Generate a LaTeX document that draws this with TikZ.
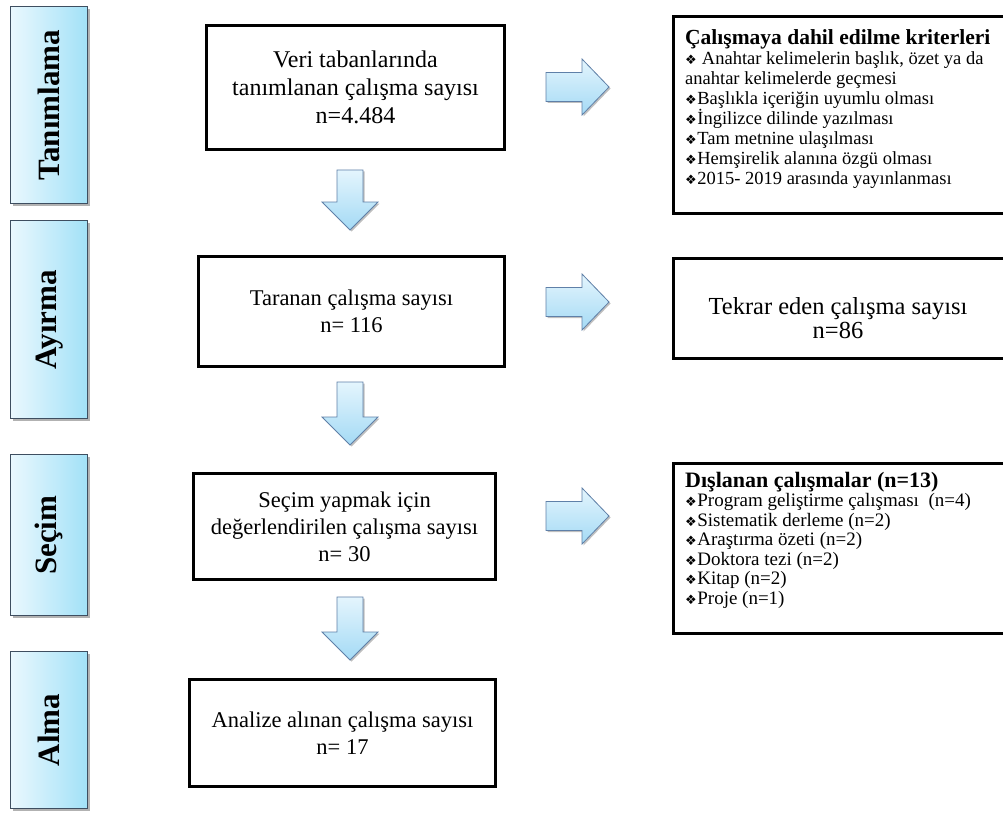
\documentclass[tikz,border=0pt]{standalone}
\usepackage{fontspec}
\setmainfont{Liberation Serif}
\newfontfamily\djv{DejaVu Sans}
\usetikzlibrary{shadows,calc}
\definecolor{sideL}{HTML}{EAF8FE}
\definecolor{sideR}{HTML}{A2E1F7}
\definecolor{sideB}{HTML}{3E4E60}
\definecolor{arrT}{HTML}{E4F5FD}
\definecolor{arrB}{HTML}{A4DAF5}
\definecolor{arrD}{HTML}{5F80A8}
\newcommand{\bul}{{\djv\fontsize{13}{13}\selectfont ❖}\hspace{0.5pt}}
\newcommand{\rightblock}[1]{%
  \path[blockarrow] (546,{#1-14.5}) -- (582,{#1-14.5}) -- (582,{#1-28}) -- (609,{#1}) -- (582,{#1+28}) -- (582,{#1+14.5}) -- (546,{#1+14.5}) -- cycle;}
\newcommand{\downblock}[3]{%
  \path[blockarrow] (337,#1) -- (363,#1) -- (363,#2) -- (378,#2) -- (350,#3) -- (322,#2) -- (337,#2) -- cycle;}
\begin{document}
\begin{tikzpicture}[x=1pt,y=-1pt,
  sidebox/.style={draw=sideB, line width=1.4pt, left color=sideL, right color=sideR,
    minimum width=77pt, inner sep=0pt, anchor=north west,
    font=\fontsize{31}{31}\selectfont\bfseries,
    drop shadow={shadow xshift=2pt, shadow yshift=-2pt, opacity=0.3, fill=black}},
  mainbox/.style={draw=black, line width=3pt, fill=white, align=center, inner sep=0pt,
    anchor=north west, font=\fontsize{22.5}{27}\selectfont,
    drop shadow={shadow xshift=1.5pt, shadow yshift=-1.5pt, opacity=0.15, fill=black}},
  rightbox/.style={draw=black, line width=3pt, fill=white, inner sep=0pt, anchor=north west,
    drop shadow={shadow xshift=1.5pt, shadow yshift=-1.5pt, opacity=0.15, fill=black}},
  listtext/.style={align=left, inner sep=0pt, anchor=north west},
  blockarrow/.style={draw=arrD, line width=0.8pt, top color=arrT, bottom color=arrB,
    line join=miter,
    drop shadow={shadow xshift=1.5pt, shadow yshift=-1.5pt, opacity=0.25, fill=black}}
]
\useasboundingbox[fill=white] (0,0) rectangle (1003,813);

% left stage boxes
\node[sidebox, minimum height=197pt] (s1) at (10,6) {\rotatebox{90}{Tanımlama}};
\node[sidebox, minimum height=198pt] (s2) at (10,220) {\rotatebox{90}{Ayırma}};
\node[sidebox, minimum height=161pt] (s3) at (10,454) {\rotatebox{90}{Seçim}};
\node[sidebox, minimum height=157pt] (s4) at (10,651) {\rotatebox{90}{Alma}};

% main boxes
\node[mainbox, minimum width=298pt, minimum height=124pt, font=\fontsize{24}{28}\selectfont] (b1) at (205,24)
  {Veri tabanlarında\\tanımlanan çalışma sayısı\\n=4.484};
\node[mainbox, minimum width=306pt, minimum height=110pt] (b2) at (197,255)
  {Taranan çalışma sayısı\\n= 116};
\node[mainbox, minimum width=302pt, minimum height=106pt] (b3) at (192,472)
  {Seçim yapmak için\\değerlendirilen çalışma sayısı\\n= 30};
\node[mainbox, minimum width=306pt, minimum height=107pt] (b4) at (188,678)
  {Analize alınan çalışma sayısı\\n= 17};

% right boxes
\node[rightbox, minimum width=345pt, minimum height=197pt] (r1) at (672,15) {};
\node[listtext, font=\fontsize{18.5}{20}\selectfont] (r1t) at (685,29)
  {{\fontsize{21.5}{24}\selectfont\bfseries Çalışmaya dahil edilme kriterleri}\\
   \bul\ Anahtar kelimelerin başlık, özet ya da\\
   anahtar kelimelerde geçmesi\\
   \bul Başlıkla içeriğin uyumlu olması\\
   \bul İngilizce dilinde yazılması\\
   \bul Tam metnine ulaşılması\\
   \bul Hemşirelik alanına özgü olması\\
   \bul 2015- 2019 arasında yayınlanması};

\node[rightbox, minimum width=345pt, minimum height=100pt] (r2) at (672,257) {};
\node[align=center, inner sep=0pt, font=\fontsize{24.5}{24.5}\selectfont] (r2t) at (838,318)
  {Tekrar eden çalışma sayısı\\n=86};

\node[rightbox, minimum width=345pt, minimum height=170pt] (r3) at (672,462) {};
\node[listtext, font=\fontsize{19}{19.5}\selectfont] (r3t) at (685,472)
  {{\fontsize{22}{24}\selectfont\bfseries Dışlanan çalışmalar (n=13)}\\
   \bul Program geliştirme çalışması \ (n=4)\\
   \bul Sistematik derleme (n=2)\\
   \bul Araştırma özeti (n=2)\\
   \bul Doktora tezi (n=2)\\
   \bul Kitap (n=2)\\
   \bul Proje (n=1)};

% block arrows
\rightblock{87}
\rightblock{302}
\rightblock{516}
\downblock{170}{202}{230}
\downblock{382}{417}{445}
\downblock{597}{632}{660}
\end{tikzpicture}
\end{document}
